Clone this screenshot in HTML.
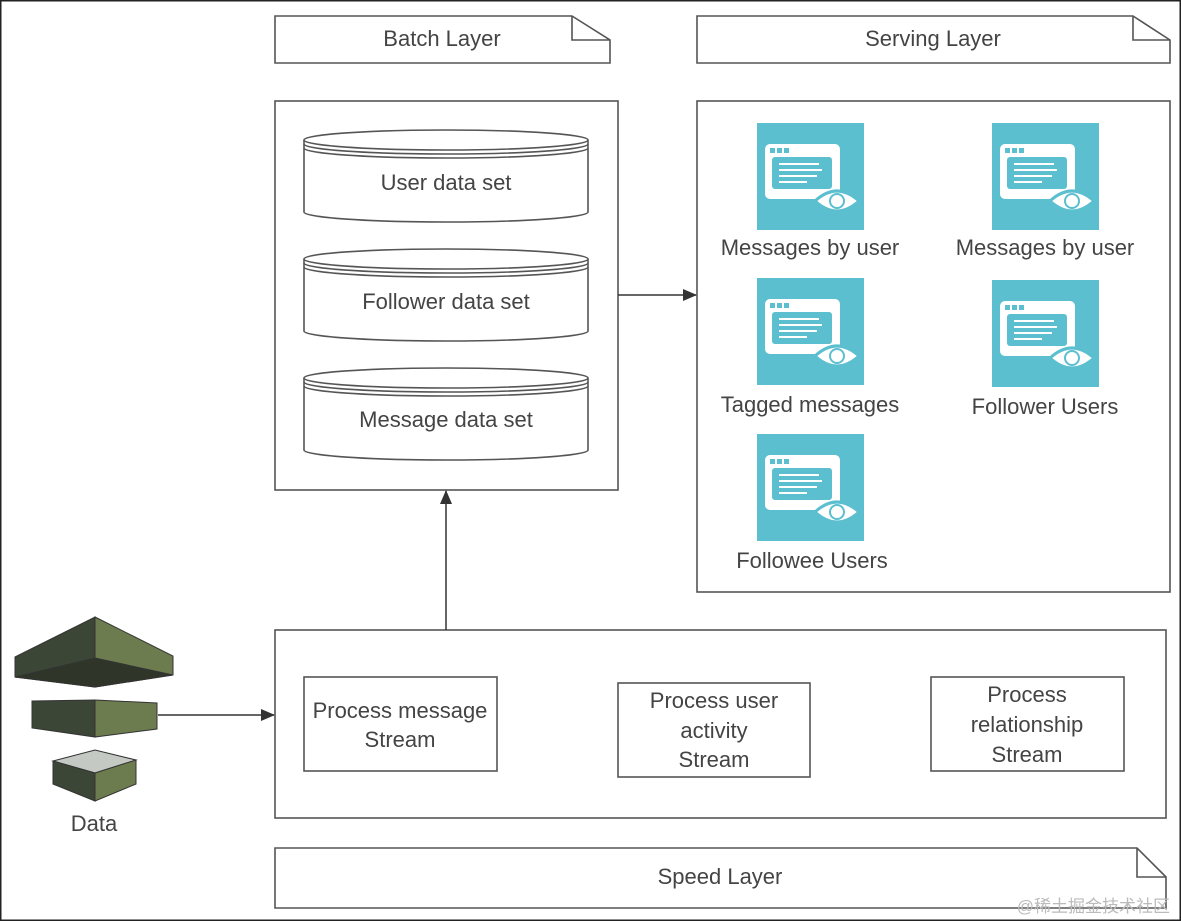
<!DOCTYPE html>
<html><head><meta charset="utf-8"><style>
html,body{margin:0;padding:0;background:#fff}
svg{display:block}
text{font-family:"Liberation Sans",sans-serif;fill:#444;font-size:22px}
</style></head><body>
<svg width="1181" height="921" viewBox="0 0 1181 921" xmlns="http://www.w3.org/2000/svg">
<defs>
<marker id="ar" markerWidth="14" markerHeight="12" refX="13" refY="6" orient="auto" markerUnits="userSpaceOnUse">
<path d="M0,0 L14,6 L0,12 Z" fill="#333"/>
</marker>
<g id="ic">
<rect x="0" y="0" width="107" height="107" fill="#5cbfcf"/>
<rect x="8" y="21" width="75" height="55" rx="5" fill="#fff"/>
<rect x="15" y="34" width="60" height="32" rx="3" fill="#5cbfcf"/>
<rect x="13" y="25" width="5" height="5" fill="#5cbfcf"/>
<rect x="20" y="25" width="5" height="5" fill="#5cbfcf"/>
<rect x="27" y="25" width="5" height="5" fill="#5cbfcf"/>
<g stroke="#fff" stroke-width="2"><line x1="22" y1="41" x2="62" y2="41"/><line x1="22" y1="47" x2="65" y2="47"/><line x1="22" y1="53" x2="60" y2="53"/><line x1="22" y1="59" x2="50" y2="59"/></g>
<path d="M58,78 Q80,58 102,78 Q80,98 58,78 Z" fill="#fff" stroke="#5cbfcf" stroke-width="3"/>
<circle cx="80" cy="78" r="7" fill="none" stroke="#5cbfcf" stroke-width="2"/>
</g>
</defs>
<rect x="0.5" y="0.5" width="1180" height="920" fill="#fff" stroke="#222" stroke-width="2"/>
<g fill="#fff" stroke="#555" stroke-width="1.6">
<path d="M275,16 H572 L610,40 V63 H275 Z"/><path d="M572,16 V40 H610" fill="none"/>
<path d="M697,16 H1133 L1170,40 V63 H697 Z"/><path d="M1133,16 V40 H1170" fill="none"/>
<path d="M275,848 H1137 L1166,877 V908 H275 Z"/><path d="M1137,848 V877 H1166" fill="none"/>
<rect x="275" y="101" width="343" height="389"/>
<rect x="697" y="101" width="473" height="491"/>
<rect x="275" y="630" width="891" height="188"/>
<rect x="304" y="677" width="193" height="94"/>
<rect x="618" y="683" width="192" height="94"/>
<rect x="931" y="677" width="193" height="94"/>
</g>
<text x="442" y="46" text-anchor="middle">Batch Layer</text>
<text x="933" y="46" text-anchor="middle">Serving Layer</text>
<text x="720" y="884" text-anchor="middle">Speed Layer</text>
<g fill="#fff" stroke="#555" stroke-width="1.6">
<g id="cy">
<path d="M304,140 V212 A142,10 0 0 0 588,212 V140"/>
<ellipse cx="446" cy="140" rx="142" ry="10"/>
<path d="M304,144 A142,10 0 0 0 588,144 M304,148 A142,10 0 0 0 588,148" fill="none"/>
</g>
<use href="#cy" y="119"/>
<use href="#cy" y="238"/>
</g>
<text x="446" y="190" text-anchor="middle">User data set</text>
<text x="446" y="309" text-anchor="middle">Follower data set</text>
<text x="446" y="427" text-anchor="middle">Message data set</text>
<use href="#ic" x="757" y="123"/>
<use href="#ic" x="992" y="123"/>
<use href="#ic" x="757" y="278"/>
<use href="#ic" x="992" y="280"/>
<use href="#ic" x="757" y="434"/>
<text x="810" y="255" text-anchor="middle">Messages by user</text>
<text x="1045" y="255" text-anchor="middle">Messages by user</text>
<text x="810" y="412" text-anchor="middle">Tagged messages</text>
<text x="1045" y="414" text-anchor="middle">Follower Users</text>
<text x="812" y="568" text-anchor="middle">Followee Users</text>
<text x="400" y="718" text-anchor="middle">Process message</text>
<text x="400" y="747" text-anchor="middle">Stream</text>
<text x="714" y="708" text-anchor="middle">Process user</text>
<text x="714" y="738" text-anchor="middle">activity</text>
<text x="714" y="767" text-anchor="middle">Stream</text>
<text x="1027" y="702" text-anchor="middle">Process</text>
<text x="1027" y="732" text-anchor="middle">relationship</text>
<text x="1027" y="762" text-anchor="middle">Stream</text>
<g stroke="#333" stroke-width="1.5" fill="none">
<line x1="618" y1="295" x2="696" y2="295" marker-end="url(#ar)"/>
<line x1="446" y1="630" x2="446" y2="491" marker-end="url(#ar)"/>
<line x1="158" y1="715" x2="274" y2="715" marker-end="url(#ar)"/>
</g>
<g stroke="#333" stroke-width="1">
<path d="M15,657 L95,617 L95,687 L15,677 Z" fill="#3c4636"/>
<path d="M95,617 L173,656 L173,675 L95,687 Z" fill="#6d7c4f"/>
<path d="M15,677 L95,658 L173,675 L95,687 Z" fill="#2f3629"/>
<path d="M32,701 L95,700 L95,737 L32,728 Z" fill="#3c4636"/>
<path d="M95,700 L157,703 L157,729 L95,737 Z" fill="#6d7c4f"/>
<path d="M53,761 L95,750 L136,760 L95,773 Z" fill="#c5c9c4"/>
<path d="M53,761 L95,773 L95,801 L53,784 Z" fill="#3c4636"/>
<path d="M95,773 L136,760 L136,784 L95,801 Z" fill="#6d7c4f"/>
</g>
<text x="94" y="831" text-anchor="middle">Data</text>
<text x="1170" y="912" text-anchor="end" style="font-family:'Liberation Sans','Noto Sans CJK SC',sans-serif;font-size:17px;fill:#bbb">@稀土掘金技术社区</text>
</svg>
</body></html>
